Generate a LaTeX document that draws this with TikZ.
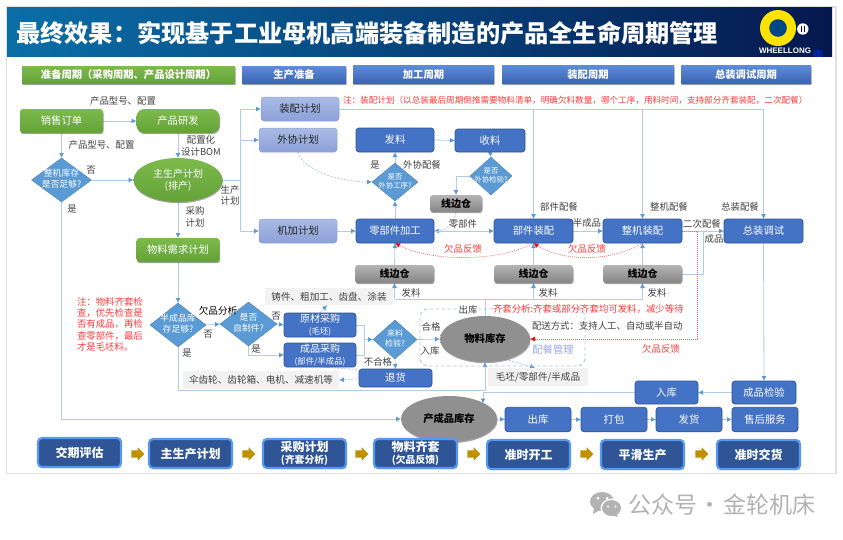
\documentclass[tikz,border=0pt]{standalone}
\usepackage{fontspec}
\setmainfont{Noto Sans CJK SC}
\newfontfamily\latinbold{Liberation Sans}
\usetikzlibrary{arrows.meta,shapes.geometric,shapes.arrows,shadows,backgrounds}
\definecolor{tipblue}{HTML}{5B9BD5}
\definecolor{linec}{HTML}{B0CCE8}
\definecolor{nodeblue}{HTML}{4472C4}
\definecolor{nodeedge}{HTML}{2F5597}
\definecolor{redtxt}{HTML}{FF3B3B}
\definecolor{labgray}{HTML}{404040}
\definecolor{peic}{HTML}{B4C7E7}
\definecolor{boxgray}{HTML}{F2F2F2}
\definecolor{btmblue}{HTML}{2F5597}
\definecolor{btmedge}{HTML}{5599F5}
\definecolor{gold}{HTML}{BF9000}
\definecolor{wm}{HTML}{B2B2B2}
\definecolor{barG1}{HTML}{7CBA4B}
\definecolor{barG2}{HTML}{64A239}
\definecolor{barB1}{HTML}{5C8DD8}
\definecolor{barB2}{HTML}{3A62B2}
\definecolor{planT}{HTML}{A9BAE4}
\definecolor{planB}{HTML}{8CA1D8}
\definecolor{planE}{HTML}{8FA6DA}
\definecolor{grayT}{HTML}{B4B4B4}
\definecolor{grayB}{HTML}{858585}
\definecolor{stockin}{HTML}{B2B2B2}
\definecolor{stockout}{HTML}{909090}
\newcommand{\fsz}[2]{\fontsize{#1}{#2}\selectfont}
\newcommand{\dtxt}[2]{\vbox to 0pt{\vss\hbox to 0pt{\hss\begin{tabular}{@{}c@{}}#1\\#2\end{tabular}\hss}\vss}}
\tikzset{
  softshadow/.style={drop shadow={shadow xshift=0.6pt,shadow yshift=-1.2pt,opacity=.35,fill=black}},
  box/.style={rectangle,inner sep=0pt,outer sep=0pt,align=center},
  barbase/.style={box,softshadow,text=white,font=\fsz{10.3}{12}\bfseries,rounded corners=0.5pt},
  greenbar/.style={barbase,top color=barG1,bottom color=barG2},
  bluebar/.style={barbase,top color=barB1,bottom color=barB2},
  greenbox/.style={box,softshadow,rounded corners=6pt,top color=barG1,bottom color=barG2,text=white,font=\fsz{10.3}{12}},
  planbox/.style={box,rounded corners=3pt,draw=planE,line width=.5pt,top color=planT,bottom color=planB,text=black!85,font=\fsz{10.3}{12},minimum width=78,minimum height=24},
  bluebox/.style={box,rounded corners=3pt,draw=nodeedge,line width=.7pt,fill=nodeblue,text=white,font=\fsz{10.3}{12.5}},
  graybox/.style={box,softshadow,rounded corners=3pt,top color=grayT,bottom color=grayB,text=black,font=\fsz{10}{12}\bfseries},
  noteblock/.style={box,fill=boxgray,text=labgray,font=\fsz{9.6}{12}},
  decision/.style={diamond,inner sep=0pt,outer sep=0pt,fill=tipblue,draw=tipblue!80!black,line width=.3pt,text=white,font=\fsz{8.8}{10.5}},
  stock/.style={ellipse,inner sep=0pt,outer sep=0pt,softshadow,left color=stockout,middle color=stockin,right color=stockout,text=black,font=\fsz{10.3}{12}\bfseries,minimum width=90,minimum height=46},
  btmbox/.style={box,softshadow,rounded corners=4pt,fill=btmblue,draw=btmedge,line width=2.1pt,text=white,font=\fsz{12}{13.5}\bfseries,minimum width=83,minimum height=29},
  goldarrow/.style={single arrow,single arrow head extend=3pt,shape border rotate=0,fill=gold,inner sep=0pt,minimum height=13},
  lab/.style={inner sep=0pt,outer sep=0pt,text=labgray,font=\fsz{9.4}{11.2},align=center},
  redlab/.style={lab,text=redtxt},
  line/.style={draw=linec,line width=.8pt},
  conn/.style={line,-{Latex[length=5pt,width=5pt,color=tipblue]}},
  dconn/.style={draw=peic,line width=.8pt,dash pattern=on 2pt off 1.5pt,-{Latex[length=5pt,width=5pt,color=tipblue]}},
  rconn/.style={draw=redtxt!80,line width=.6pt,dash pattern=on 1pt off 1pt,-{Latex[length=5pt,width=5pt,color=red]}},
}
\begin{document}
\begin{tikzpicture}[x=1pt,y=-1pt]
\useasboundingbox (0,0) rectangle (843,539);
\begin{scope}[on background layer]
  \fill[white] (0,0) rectangle (843,539);
\end{scope}
% frame and banner
\draw[draw=black!12,line width=1.4pt] (6.5,7) rectangle (836,473.5);
\node[box,minimum width=825,minimum height=49,
      left color={rgb,255:red,11;green,110;blue,167},middle color={rgb,255:red,6;green,72;blue,135},right color={rgb,255:red,5;green,24;blue,78}] (banner) at (419.5,31.5) {};
\node[anchor=west,inner sep=0pt,text=white,font=\fsz{24.2}{26}\bfseries] (title) at (16,33.5) {最终效果：实现基于工业母机高端装备制造的产品全生命周期管理};
% logo
\begin{scope}
  \clip (760,7) rectangle (832,56);
  \fill[blue!55!black!85!cyan] (818,54) circle (5);
\end{scope}
\fill[yellow!85!orange] (778,28) circle (18);
\fill[black!40!blue!60!cyan!70!black] (778,28) circle (8.8);
\fill[white] (802.8,29) circle (5.7);
\draw[black!70!blue,line width=1pt] (801.3,26) -- (801.3,31.5) (804.3,26) -- (804.3,31.5);
\node[inner sep=0pt,text=white,font=\latinbold\fsz{8}{9}\bfseries] (brand) at (785,50.5) {WHEELLONG};
% header bars
\node[greenbar,minimum width=213,minimum height=18] (h1) at (128.5,75) {准备周期（采购周期、产品设计周期）};
\node[bluebar,minimum width=104,minimum height=18] (h2) at (294,75) {生产准备};
\node[bluebar,minimum width=141,minimum height=19] (h3) at (423.5,74.5) {加工周期};
\node[bluebar,minimum width=172,minimum height=19] (h4) at (588,74.5) {装配周期};
\node[bluebar,minimum width=130,minimum height=19] (h5) at (746,74.5) {总装调试周期};
% left column
\node[greenbox,rounded corners=3pt,minimum width=83,minimum height=24] (order) at (61.5,121) {销售订单};
\node[greenbox,rounded corners=8pt,minimum width=83,minimum height=24] (rd) at (178,121) {产品研发};
\node[ellipse,inner sep=0pt,outer sep=0pt,softshadow,top color=barG1,bottom color=barG2,text=white,font=\fsz{10}{12},align=center,minimum width=89,minimum height=44] (mps) at (178,180) {主生产计划\\(排产)};
\node[greenbox,rounded corners=3pt,minimum width=83,minimum height=24] (mrp) at (178,250) {物料需求计划};
\node[decision,minimum width=60,minimum height=44] (stockchk) at (61.5,180) {\dtxt{整机库存}{是否足够?}};
% plans
\node[planbox] (asmplan) at (300,109) {装配计划};
\node[planbox] (outplan) at (298,140) {外协计划};
\node[planbox] (macplan) at (298,231) {机加计划};
% machining
\node[bluebox,minimum width=78,minimum height=24] (issue) at (395,140) {发料};
\node[bluebox,minimum width=70,minimum height=23] (recv) at (490,140.5) {收料};
\node[decision,minimum width=46,minimum height=38,font=\fsz{7.4}{9.5}] (outq) at (395,182) {\dtxt{是否}{外协工序?}};
\node[decision,minimum width=42,minimum height=38,font=\fsz{7.4}{9.5}] (outchk) at (491,176) {\dtxt{是否}{外协检验?}};
\node[graybox,minimum width=52,minimum height=17] (edge0) at (456,203.5) {线边仓};
\node[bluebox,minimum width=78,minimum height=24] (part) at (395,231) {零部件加工};
\node[bluebox,minimum width=79,minimum height=24] (comp) at (533.5,231) {部件装配};
\node[bluebox,minimum width=79,minimum height=24] (unit) at (642.5,231) {整机装配};
\node[bluebox,minimum width=79,minimum height=24] (final) at (763.5,231) {总装调试};
\node[graybox,minimum width=79,minimum height=18] (edge1) at (394.5,274) {线边仓};
\node[graybox,minimum width=79,minimum height=18] (edge2) at (533.5,274) {线边仓};
\node[graybox,minimum width=79,minimum height=18] (edge3) at (642.5,274) {线边仓};
% purchasing
\node[decision,minimum width=56,minimum height=44] (semi) at (178,325) {\dtxt{半成品库}{存足够?}};
\node[decision,minimum width=57,minimum height=44] (self) at (248.5,324) {\dtxt{是否}{自制件?}};
\node[bluebox,minimum width=72,minimum height=24,font=\fsz{10}{11.5}] (rawbuy) at (320,325) {原材采购\\{\fsz{8.4}{10}(毛坯)}};
\node[bluebox,minimum width=72,minimum height=24,font=\fsz{10}{11.5}] (finbuy) at (320,355) {成品采购\\{\fsz{8.4}{10}(部件/半成品)}};
\node[decision,minimum width=44,minimum height=39,font=\fsz{8}{10}] (incheck) at (395,339.5) {\dtxt{来料}{检验?}};
\node[bluebox,minimum width=73,minimum height=18] (ret) at (395.5,378) {退货};
\node[noteblock,minimum width=128,minimum height=17] (castnote) at (329,296.5) {铸件、粗加工、齿盘、涂装};
\node[noteblock,minimum width=156,minimum height=18] (gearnote) at (261,380) {伞齿轮、齿轮箱、电机、减速机等};
% material stock
\node[box,draw=peic,line width=.9pt,dash pattern=on 3.5pt off 2.5pt,rounded corners=8pt,minimum width=165,minimum height=57] (kit) at (502.5,337.5) {};
\node[stock] (matstock) at (485,339) {物料库存};
\node[noteblock,minimum width=100,minimum height=18] (matnote) at (538,377) {毛坯/零部件/半成品};
% finished goods
\node[stock,minimum width=96,minimum height=46] (fgstock) at (449,419) {产成品库存};
\node[bluebox,minimum width=63,minimum height=23] (inwh) at (666.5,392.5) {入库};
\node[bluebox,minimum width=64,minimum height=23] (fqc) at (764,392.5) {成品检验};
\node[bluebox,minimum width=66,minimum height=24.5] (outwh) at (538,419.5) {出库};
\node[bluebox,minimum width=66,minimum height=24.5] (pack) at (614,419.5) {打包};
\node[bluebox,minimum width=66,minimum height=24.5] (ship) at (689,419.5) {发货};
\node[bluebox,minimum width=66,minimum height=24.5] (service) at (765,419.5) {售后服务};
% bottom row
\node[btmbox] (b1) at (79.5,452.5) {交期评估};
\node[btmbox] (b2) at (190.5,453.5) {主生产计划};
\node[btmbox] (b3) at (304.5,453.5) {采购计划\\[-1pt]{\fsz{9.8}{11}(齐套分析)}};
\node[btmbox] (b4) at (415.5,453.5) {物料齐套\\[-1pt]{\fsz{9.8}{11}(欠品反馈)}};
\node[btmbox] (b5) at (528.5,454.5) {准时开工};
\node[btmbox] (b6) at (642.5,454.5) {平滑生产};
\node[btmbox] (b7) at (758.5,454.5) {准时交货};
\node[goldarrow] (g1) at (136,454) {\rule{0pt}{7pt}};
\node[goldarrow] (g2) at (247,454) {\rule{0pt}{7pt}};
\node[goldarrow] (g3) at (360,454) {\rule{0pt}{7pt}};
\node[goldarrow] (g4) at (472,454) {\rule{0pt}{7pt}};
\node[goldarrow] (g5) at (585,454) {\rule{0pt}{7pt}};
\node[goldarrow] (g6) at (700,454) {\rule{0pt}{7pt}};
% labels
\node[lab] (t1) at (123,101) {产品型号、配置};
\node[lab] (t2) at (101.5,145) {产品型号、配置};
\node[lab] (t3) at (201,146) {配置化\\设计BOM};
\node[lab] (t4) at (91,170.5) {否};
\node[lab] (t5) at (72,209) {是};
\node[lab] (t6) at (230,195.5) {生产\\计划};
\node[lab] (t7) at (195,217) {采购\\计划};
\node[lab] (t8) at (375,165) {是};
\node[lab] (t9) at (422,165) {外协配餐};
\node[lab] (t10) at (559,207) {部件配餐};
\node[lab] (t11) at (669,207) {整机配餐};
\node[lab] (t12) at (740,207) {总装配餐};
\node[lab] (t13) at (463,224) {零部件};
\node[lab] (t14) at (587,223) {半成品};
\node[lab] (t15) at (702,224) {二次配餐};
\node[lab] (t16) at (714,239) {成品};
\node[redlab] (t17) at (463,248.5) {欠品反馈};
\node[redlab] (t18) at (587,248.5) {欠品反馈};
\node[lab] (t19) at (411,293) {发料};
\node[lab] (t20) at (548,293) {发料};
\node[lab] (t21) at (657,293) {发料};
\node[lab,fill=white,inner sep=1pt] (t22) at (468,309.5) {出库};
\node[lab] (t23) at (431,327) {合格};
\node[lab] (t24) at (430,351) {入库};
\node[lab] (t25) at (378,362) {不合格};
\node[redlab,anchor=west] (t26) at (493,309.5) {齐套分析:齐套或部分齐套均可发料，减少等待};
\node[lab,anchor=west] (t27) at (532,325.5) {配送方式：支持人工、自动或半自动};
\node[lab,text=peic!85!blue,font=\fsz{10.3}{12}] (t28) at (553,350) {配餐管理};
\node[redlab] (t29) at (661,349) {欠品反馈};
\node[lab,text=black,font=\fsz{9.6}{11}] (t30) at (218,310.5) {欠品分析};
\node[lab] (t31) at (276,316) {否};
\node[lab] (t32) at (208,334) {否};
\node[lab] (t33) at (187,353) {是};
\node[lab] (t34) at (256,349) {是};
\node[redlab,anchor=north west,align=left] (t35) at (77,297.5) {注：物料齐套检\\查，优先检查是\\否有成品，再检\\查零部件，最后\\才是毛坯料。};
\node[redlab,anchor=west,font=\fsz{8.6}{10}] (t36) at (343,100.5) {注：装配计划（以总装最后周期倒推需要物料清单，明确欠料数量，哪个工序，用料时间，支持部分齐套装配，二次配餐）};
% watermark
\node[inner sep=0pt,text=wm,font=\fsz{23}{25},anchor=west] (wmtext) at (628,505) {公众号\hspace{1.5pt}·\hspace{1.5pt}金轮机床};
\fill[wm] (602,501.5) ellipse (12 and 9.5);
\fill[wm] (594,508) -- (593,514) -- (600,510) -- cycle;
\fill[white] (611.5,508) ellipse (11 and 9.5);
\fill[wm] (611.5,508) ellipse (9.5 and 8);
\fill[wm] (616,513) -- (618,517) -- (611,515) -- cycle;
\fill[white] (598,498) circle (1.5) (607,498) circle (1.5) (608,506.5) circle (1.2) (615.5,506.5) circle (1.2);
% connectors
\coordinate (jplan) at (240,180);
\coordinate (jtop) at (763.5,109);
\coordinate (jcomp) at (533.5,109);
\coordinate (junit) at (642.5,109);
\coordinate (hub) at (485,299);
\coordinate (hub1) at (394.5,299);
\coordinate (hub2) at (533.5,299);
\coordinate (hub3) at (642.5,299);
\coordinate (jbuy) at (364,339.5);
\coordinate (jsecond) at (703,231);
\coordinate (redcorner) at (697,231);
\coordinate (jsemi) at (178,390);
\coordinate (jgear) at (358,379);
\coordinate (jgear0) at (358,369.5);
\coordinate (fgin) at (483,392.5);
\coordinate (fgtop) at (483,403.5);
\coordinate (jstock) at (61.5,419);
\begin{scope}[on background layer]
  \draw[conn] (order.east) -- (rd.west);
  \draw[conn] (order.south) -- (stockchk.north);
  \draw[conn] (rd.south) -- (mps.north);
  \draw[conn] (stockchk.east) -- (mps.west);
  \draw[conn] (mps.south) -- (mrp.north);
  \draw[line] (mps.east) -- (jplan);
  \draw[conn] (jplan) |- (asmplan.west);
  \draw[conn] (jplan) |- (outplan.west);
  \draw[conn] (jplan) |- (macplan.west);
  \draw[line] (asmplan.east) -- (jtop);
  \draw[conn] (jtop) -- (final.north);
  \draw[conn] (jcomp) -- (comp.north);
  \draw[conn] (junit) -- (unit.north);
  \draw[dconn] (outplan.south) .. controls (302,170) and (340,182) .. (outq.west);
  \draw[conn] (macplan.east) -- (part.west);
  \draw[conn] (part.north) -- (outq.south);
  \draw[conn] (outq.north) -- (issue.south);
  \draw[conn] (issue.east) -- (recv.west);
  \draw[conn] (recv.south) -- (outchk.north);
  \draw[conn] (outchk.west) -| (edge0.north);
  \draw[dconn] (edge0.south) .. controls (455,222) and (447,231) .. (part.east);
  \draw[conn] (part.east) -- (comp.west);
  \draw[conn] (comp.east) -- (unit.west);
  \draw[conn] (unit.east) -- (final.west);
  \draw[line] (edge3.east) -| (jsecond);
  \draw[conn] (edge1.north) -- (part.south);
  \draw[conn] (edge2.north) -- (comp.south);
  \draw[conn] (edge3.north) -- (unit.south);
  \draw[line] (matstock.north) -- (hub);
  \draw[line] (hub1) -- (hub3);
  \draw[conn] (hub1) -- (edge1.south);
  \draw[conn] (hub2) -- (edge2.south);
  \draw[conn] (hub3) -- (edge3.south);
  \draw[conn] (incheck.east) -- (matstock.west);
  \draw[line] (rawbuy.east) -| (jbuy);
  \draw[line] (finbuy.east) -| (jbuy);
  \draw[conn] (jbuy) -- (incheck.west);
  \draw[conn] (incheck.south) -- (ret.north);
  \draw[dconn] (rawbuy.north) -- ([xshift=-2pt]castnote.south);
  \draw[dconn] (finbuy.south) -- (jgear0) -- (jgear) -- (gearnote.east);
  \draw[conn] (mrp.south) -- (semi.north);
  \draw[conn] (semi.east) -- (self.west);
  \draw[conn] (self.east) -- (rawbuy.west);
  \draw[conn] (self.south) |- (finbuy.west);
  \draw[conn] (semi.south) -- (jsemi) -| (matstock.south);
  \draw[conn] (stockchk.south) -- (jstock) -- (fgstock.west);
  \draw[conn] (final.south) -- (fqc.north);
  \draw[conn] (fqc.west) -- (inwh.east);
  \draw[conn] (inwh.west) -- (fgin) -- (fgtop);
  \draw[conn] (fgstock.east) -- (outwh.west);
  \draw[conn] (outwh.east) -- (pack.west);
  \draw[conn] (pack.east) -- (ship.west);
  \draw[conn] (ship.east) -- (service.west);
  \draw[dconn] (matstock.-45) .. controls (524,364) and (530,366) .. (535,368);
  \draw[rconn] (unit.east) -- (redcorner) |- (matstock.east);
  \draw[rconn] (comp.south) .. controls (500,262) and (430,262) .. (part.south);
  \draw[rconn] (unit.south) .. controls (612,262) and (563,262) .. (comp.south);
\end{scope}
\end{tikzpicture}
\end{document}
